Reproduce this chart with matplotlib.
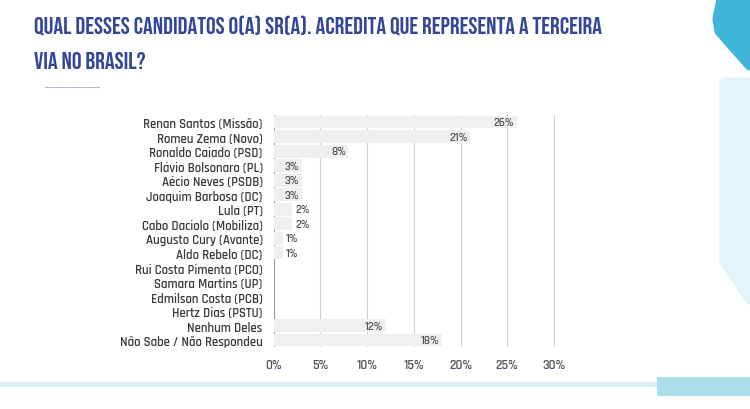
import matplotlib.pyplot as plt
from matplotlib.patches import Polygon, Rectangle

candidatos = ['Renan Santos (Missão)', 'Romeu Zema (Novo)', 'Ronaldo Caiado (PSD)',
              'Flávio Bolsonaro (PL)', 'Aécio Neves (PSDB)', 'Joaquim Barbosa (DC)',
              'Lula (PT)', 'Cabo Daciolo (Mobiliza)', 'Augusto Cury (Avante)',
              'Aldo Rebelo (DC)', 'Rui Costa Pimenta (PCO)', 'Samara Martins (UP)',
              'Edmilson Costa (PCB)', 'Hertz Dias (PSTU)', 'Nenhum Deles',
              'Não Sabe / Não Respondeu']
valores = [26, 21, 8, 3, 3, 3, 2, 2, 1, 1, 0, 0, 0, 0, 12, 18]
ticks = [0, 5, 10, 15, 20, 25, 30]

font = ['Rajdhani', 'DejaVu Sans']
title_font = ['Bebas Neue', 'Oswald', 'DejaVu Sans']
fig = plt.figure(figsize=(7.5, 4.1), dpi=100)

# decorative background shapes
deco = fig.add_axes([0, 0, 1, 1], zorder=-5)
deco.set_xlim(0, 750); deco.set_ylim(410, 0); deco.axis('off')
deco.add_patch(Polygon([(724, -10), (760, -10), (760, 66), (750, 66), (720, 32), (718, 20)],
                       closed=True, fc='#3fb6d7', ec='#3fb6d7', lw=8, joinstyle='round'))
deco.add_patch(Polygon([(725, 84), (760, 84), (760, 300), (750, 300), (725, 262)],
                       closed=True, fc='#e2f3f9', ec='#e2f3f9', lw=8, joinstyle='round'))
deco.add_patch(Rectangle((0, 383), 720, 5, fc='#dbf0f7', ec='none'))
deco.add_patch(Rectangle((657, 378), 93, 19, fc='#abdeeb', ec='none'))
deco.plot([45, 100], [88, 88], color='#8a93b8', lw=0.8, ls=(0, (1, 0.6)))

fig.text(0.046, 0.938, 'QUAL DESSES CANDIDATOS O(A) SR(A). ACREDITA QUE REPRESENTA A TERCEIRA',
         family=title_font, fontsize=17.5, color='#34469a', va='center')
fig.text(0.046, 0.853, 'VIA NO BRASIL?', family=title_font, fontsize=17.5,
         color='#34469a', va='center')

ax = fig.add_axes([0.365, 0.1505, 0.376, 0.567])
y = list(range(len(candidatos)))
ax.barh(y, valores, height=0.88, color='#eef0f0', zorder=2)
for yi, v in zip(y, valores):
    if v == 0:
        continue
    if v >= 3:
        ax.text(v - 0.25, yi, f'{v}%', ha='right', va='center', family=font,
                fontsize=8.5, color='#555555', weight='semibold', zorder=3)
    else:
        ax.text(v + 0.3, yi, f'{v}%', ha='left', va='center', family=font,
                fontsize=8.5, color='#555555', weight='semibold', zorder=3)

ax.set_ylim(len(candidatos) - 0.5, -0.5)
ax.set_xlim(0, 30.2)
ax.set_yticks(y)
ax.set_yticklabels(candidatos, family=font, fontsize=9.3, color='#3a3a3a', weight='semibold')
ax.set_xticks(ticks)
ax.set_xticklabels([f'{t}%' for t in ticks], family=font, fontsize=9.5, color='#555555',
                   weight='semibold')
ax.tick_params(length=0, pad=8)
ax.tick_params(axis='x', pad=8)
for t in ticks[1:]:
    ax.axvline(t, color='#cfcfcf', lw=0.8, zorder=1)
ax.axvline(0, color='#999999', lw=0.8, zorder=1)
for s in ax.spines.values():
    s.set_visible(False)
ax.set_facecolor('none')

fig.savefig('out.png', dpi=100)
